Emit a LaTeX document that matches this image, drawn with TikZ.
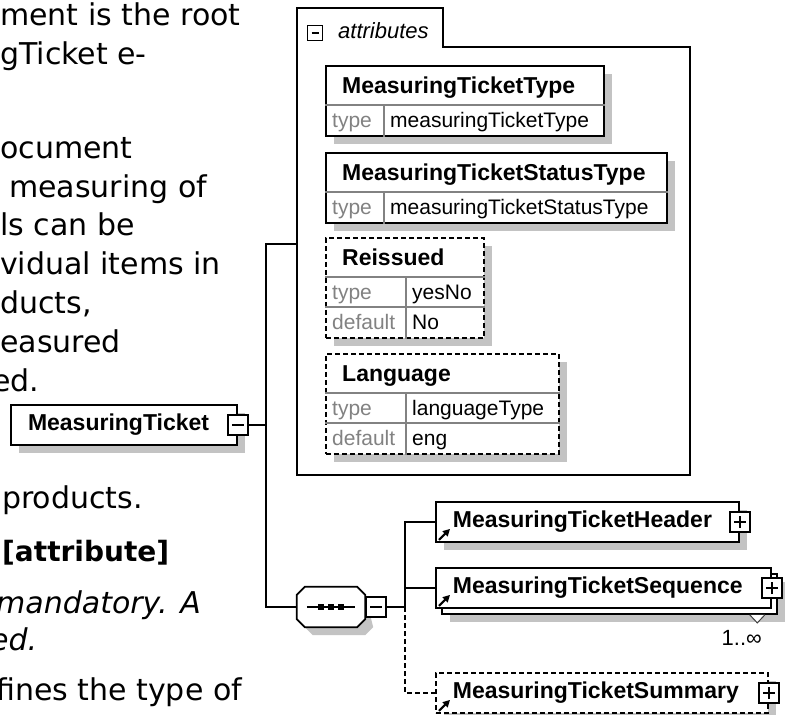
\documentclass[tikz,border=0pt]{standalone}
\usepackage{fontspec}
\setmainfont{Liberation Sans}
\newfontfamily\docfont{DejaVu Sans}
\usepackage{tikz}
\usetikzlibrary{shapes,arrows.meta,shadows,calc}

\definecolor{shadowgray}{RGB}{195,195,195}
\definecolor{rulegray}{RGB}{130,130,130}

\begin{document}
\begin{tikzpicture}
  [
    x=1pt, y=-1pt,
    >=stealth,
    boxshadow/.style = {drop shadow={shadow xshift=8pt, shadow yshift=-8pt, fill=shadowgray, opacity=1}},
    optional/.style  = {dash pattern=on 5pt off 3pt},
    conn/.style      = {line width=1.8pt},
    elem/.style      = {draw, line width=1.8pt, fill=white, minimum height=40pt, inner xsep=17pt, inner ysep=0pt, align=left, font=\fontsize{23}{23}\selectfont\bfseries},
    tbl/.style       = {draw, line width=1.8pt, fill=white, boxshadow, inner sep=0pt, anchor=north west},
    rowline/.style   = {draw=rulegray, line width=1.3pt},
    ttl/.style       = {anchor=base west, inner sep=0pt, font=\fontsize{23}{23}\selectfont\bfseries},
    key/.style       = {anchor=base west, inner sep=0pt, text=rulegray, font=\fontsize{21}{21}\selectfont},
    val/.style       = {anchor=base west, inner sep=0pt, font=\fontsize{21}{21}\selectfont},
    minus/.style     = {draw, fill=white, line width=1.6pt, minimum size=20pt, inner sep=0pt,
                        path picture={\draw[line width=1.4pt] ([xshift=4pt]path picture bounding box.west) -- ([xshift=-4pt]path picture bounding box.east);}},
    plus/.style      = {draw, fill=white, line width=1.6pt, minimum size=20pt, inner sep=0pt,
                        path picture={\draw[line width=1.4pt] ([xshift=4pt]path picture bounding box.west) -- ([xshift=-4pt]path picture bounding box.east)
                                      ([yshift=4pt]path picture bounding box.south) -- ([yshift=-4pt]path picture bounding box.north);}},
    para/.style      = {anchor=base west, inner sep=0pt, font=\docfont\fontsize{30}{36}\selectfont},
  ]

%Frame of the screenshot
\useasboundingbox (0,0) rectangle (785,715);
\clip (0,0) rectangle (785,715);

%Page text cut off at the left
\foreach [count=\i] \x/\y/\s in {0/25/ment is the root, 0/64/gTicket e-, 0/158/ocument,
    9/197/measuring of, 0/235/ls can be, 0/274/vidual items in, 0/313/{ducts,},
    0/352/easured, -8/391/ed., 2/508/products., 2/561/{\fontsize{28}{36}\selectfont\bfseries [attribute]},
    -4/613/{\itshape mandatory. A}, -10/650/{\itshape ed.}, -4/700/fines the type of}
{
\node[para] (p\i) at (\x,\y) {\s};
}

%Root element
\node[elem, boxshadow, text width=192pt] (root) at (124,425) {MeasuringTicket};
\node[minus] (root-x) at (root.east) {};

%Attributes frame with its tab
\draw[line width=1.8pt] (297,8) -- (443,8) -- (443,47) -- (690,47) -- (690,475) -- (297,475) -- cycle;
\node[minus, minimum size=15pt] (att-x) at (315,33) {};
\node[anchor=west, inner sep=0pt, font=\fontsize{22}{22}\selectfont\itshape] (att-t) at (338,31) {attributes};
\coordinate (att-in) at (297,244);

%Required attributes: title and type
\foreach \n/\t/\w/\ttl/\val in {mtt/65/278/MeasuringTicketType/measuringTicketType,
                               mst/152/341/MeasuringTicketStatusType/measuringTicketStatusType}
{
\node[tbl, minimum width=\w pt, minimum height=70pt] (\n) at (325,\t) {};
\draw[rowline] ($(\n.north west)+(0,40)$) -- ($(\n.north east)+(0,40)$);
\draw[rowline] ($(\n.north west)+(59,40)$) -- ($(\n.south west)+(59,0)$);
\node[ttl] (\n-t) at ($(\n.north west)+(17,28)$) {\ttl};
\node[key] (\n-k) at ($(\n.north west)+(7,62)$) {type};
\node[val] (\n-v) at ($(\n.north west)+(65,62)$) {\val};
}

%Optional attributes: title, type and default
\foreach \n/\t/\w/\ttl/\val/\dft in {rsd/237/158/Reissued/yesNo/No,
                                    lng/353/233/Language/languageType/eng}
{
\node[tbl, optional, minimum width=\w pt, minimum height=100pt] (\n) at (325,\t) {};
\draw[rowline] ($(\n.north west)+(0,40)$) -- ($(\n.north east)+(0,40)$);
\draw[rowline] ($(\n.north west)+(0,70)$) -- ($(\n.north east)+(0,70)$);
\draw[rowline] ($(\n.north west)+(81,40)$) -- ($(\n.south west)+(81,0)$);
\node[ttl] (\n-t) at ($(\n.north west)+(17,28)$) {\ttl};
\node[key] (\n-k) at ($(\n.north west)+(7,62)$) {type};
\node[val] (\n-v) at ($(\n.north west)+(87,62)$) {\val};
\node[key] (\n-dk) at ($(\n.north west)+(7,92)$) {default};
\node[val] (\n-dv) at ($(\n.north west)+(87,92)$) {\dft};
}

%Sequence compositor (box with cut corners)
\node[minimum width=68pt, minimum height=40pt, inner sep=0pt] (seq) at (331,607) {};
\fill[shadowgray] ($(seq.north west)+(16,8)$) -- ($(seq.north east)+(0,8)$) -- ($(seq.south east)+(8,0)$)
      -- ($(seq.south east)+(0,8)$) -- ($(seq.south west)+(16,8)$) -- ($(seq.south west)+(8,0)$) -- cycle;
\draw[line width=1.8pt, fill=white] ($(seq.north west)+(8,0)$) -- ($(seq.north east)+(-8,0)$) -- ($(seq.north east)+(0,8)$)
      -- ($(seq.south east)+(0,-8)$) -- ($(seq.south east)+(-8,0)$) -- ($(seq.south west)+(8,0)$)
      -- ($(seq.south west)+(0,-8)$) -- ($(seq.north west)+(0,8)$) -- cycle;
\draw[line width=1.3pt] ($(seq.west)+(10,0)$) -- ($(seq.east)+(-10,0)$);
\foreach \dx in {-10,0,10}
  \fill ($(seq.center)+(\dx,0)$) ++(-3,-3) rectangle ++(6,6);
\node[minus, anchor=west] (seq-x) at (seq.east) {};

%Child elements
\node[elem, boxshadow, anchor=west, text width=269pt] (hdr) at (435,522) {MeasuringTicketHeader};
\node[elem, boxshadow, anchor=west, minimum width=335pt] (sqn-b) at (441,594) {};
\node[elem, anchor=west, text width=301pt] (sqn) at (435,588) {MeasuringTicketSequence};
\node[elem, boxshadow, optional, anchor=west, text width=298pt] (sum) at (435,693) {MeasuringTicketSummary};

\foreach \n in {hdr,sqn,sum}
{
\node[plus] (\n-x) at (\n.east) {};
\draw[-{Triangle[length=7pt,width=7pt]}, line width=2.2pt] ($(\n.south west)+(4,-3)$) -- ++(11,-11);
}

%Occurrence of the sequence element
\draw[line width=1pt, draw=darkgray, fill=white] ($(sqn-b.south east)+(-28,0)$) -- ++(7.5,8) -- ++(7.5,-8);
\node[inner sep=0pt, font=\fontsize{22}{22}\selectfont] (sqn-o) at ($(sqn-b.south east)+(-36,23)$) {1..∞};

%Connectors
\coordinate (bus1) at (266,425);
\coordinate (bus2) at (405,607);
\draw[conn] (root-x.east) -- (bus1);
\draw[conn] (att-in) -| (bus1) |- (seq.west);
\draw[conn] (seq-x.east) -- (bus2);
\draw[conn] (bus2) |- (hdr.west);
\draw[conn] (bus2) |- (sqn.west);
\draw[conn, optional] (bus2) |- (sum.west);
\end{tikzpicture}
\end{document}
